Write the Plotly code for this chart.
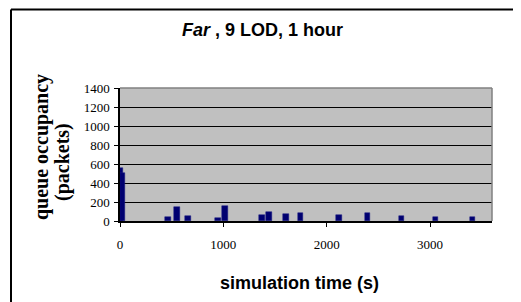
import plotly.graph_objects as go

# Data
sim_time = [0, 25, 464, 551, 657, 947, 1019, 1372, 1444, 1604, 1748, 2116, 2396, 2725, 3053, 3411]
queue_occupancy = [560, 510, 40, 147, 55, 35, 155, 63, 92, 74, 84, 66, 84, 49, 39, 39]
y_ticks = [0, 200, 400, 600, 800, 1000, 1200, 1400]
x_ticks = [0, 1000, 2000, 3000]

OFF = 8  # page body margin
W, H = 521 - OFF, 302 - OFF
L, R, T, B = 120 - OFF, 29, 88 - OFF, 81
pw, ph = W - L - R, H - T - B

def px(x):  # screen pixel -> paper x
    return (x - OFF - L) / pw

def py(y):  # screen pixel -> paper y
    return (H - B - (y - OFF)) / ph

fig = go.Figure()
fig.add_trace(go.Bar(
    x=sim_time, y=queue_occupancy, width=55,
    marker=dict(color="#000070", line=dict(color="#1a1a80", width=0.5)),
    showlegend=False,
))

serif = "Liberation Serif, Times New Roman, serif"
sans = "Liberation Sans, Arial, sans-serif"

fig.update_layout(
    width=W, height=H,
    margin=dict(l=L, r=R, t=T, b=B),
    paper_bgcolor="white",
    plot_bgcolor="#C0C0C0",
    bargap=0,
    xaxis=dict(
        range=[0, 3600], tickvals=x_ticks, ticktext=[str(v) for v in x_ticks],
        showgrid=False, zeroline=False,
        showline=True, linecolor="black", linewidth=1.5,
        ticks="outside", ticklen=4, tickcolor="black",
        tickfont=dict(family=serif, size=13, color="black"),
        ticklabelstandoff=7,
    ),
    yaxis=dict(
        range=[0, 1400], tickvals=y_ticks, ticktext=[str(v) for v in y_ticks],
        showgrid=True, gridcolor="black", gridwidth=1, zeroline=False,
        showline=True, linecolor="black", linewidth=1.5,
        ticks="outside", ticklen=4, tickcolor="black",
        tickfont=dict(family=serif, size=13, color="black"),
        ticklabelstandoff=2,
    ),
    shapes=[
        dict(type="line", xref="paper", yref="paper", x0=0, x1=1, y0=1, y1=1,
             line=dict(color="#808080", width=1.5)),
        dict(type="line", xref="paper", yref="paper", x0=1, x1=1, y0=0, y1=1,
             line=dict(color="#808080", width=1.5)),
        dict(type="line", xref="paper", yref="paper", x0=px(11), x1=px(560),
             y0=py(9.5), y1=py(9.5), line=dict(color="black", width=2)),
        dict(type="line", xref="paper", yref="paper", x0=px(11), x1=px(11),
             y0=py(9.5), y1=py(340), line=dict(color="black", width=2)),
    ],
    annotations=[
        dict(text="<b><i>Far</i> , 9 LOD, 1 hour</b>",
             xref="paper", yref="paper", x=px(262), y=py(30),
             xanchor="center", yanchor="middle", showarrow=False,
             font=dict(family=sans, size=18, color="black")),
        dict(text="<b>queue occupancy</b>", textangle=-90,
             xref="paper", yref="paper", x=px(41), y=py(147),
             xanchor="center", yanchor="middle", showarrow=False,
             font=dict(family=serif, size=20, color="black")),
        dict(text="<b>(packets)</b>", textangle=-90,
             xref="paper", yref="paper", x=px(62), y=py(162),
             xanchor="center", yanchor="middle", showarrow=False,
             font=dict(family=serif, size=20, color="black")),
        dict(text="<b>simulation time (s)</b>",
             xref="paper", yref="paper", x=px(299), y=py(283),
             xanchor="center", yanchor="middle", showarrow=False,
             font=dict(family=sans, size=18, color="black")),
    ],
)

fig.write_html("out.html")
